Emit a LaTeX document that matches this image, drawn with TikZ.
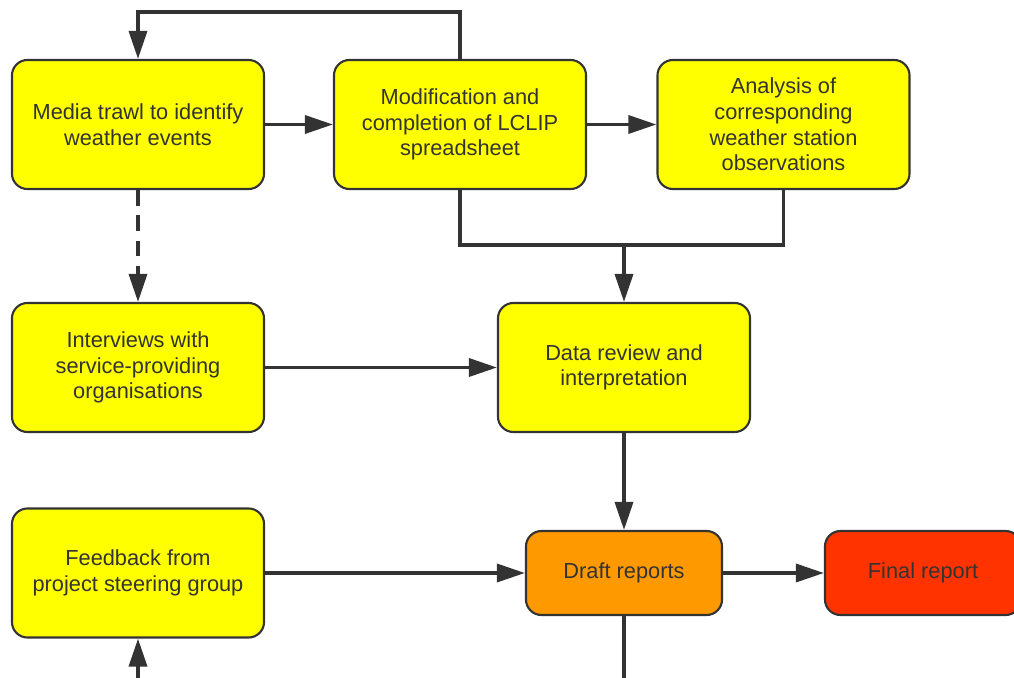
\documentclass[tikz,border=0pt]{standalone}
\usepackage{fontspec}
\setmainfont{Liberation Sans}
\usetikzlibrary{arrows.meta}

\definecolor{linegray}{HTML}{333333}
\definecolor{stageyellow}{HTML}{FFFF00}
\definecolor{draftorange}{HTML}{FF9900}
\definecolor{finalred}{HTML}{FF3300}

\tikzset{
	stage/.style={draw=linegray, line width=1.5pt, rounded corners=11pt, fill=stageyellow,
		text=linegray, align=center, minimum width=6.3cm, minimum height=3.225cm,
		font=\fontsize{15.5}{18.2}\selectfont},
	report/.style={stage, minimum width=4.9cm, minimum height=2.1cm},
	wire/.style={draw=linegray, line width=2.5pt},
	flow/.style={wire, -{Triangle[length=0.7cm,width=0.45cm]}}
}

\begin{document}
\begin{tikzpicture}[x=0.025cm,y=-0.025cm]
	\useasboundingbox (0,0) rectangle (1014,678);
	\clip (0,0) rectangle (1014,678);
	% boxes
	\node[stage] (media) at (138,124.5) {Media trawl to identify\\weather events};
	\node[stage] (modif) at (460,124.5) {Modification and\\completion of LCLIP\\spreadsheet};
	\node[stage] (analysis) at (783.5,124.5) {Analysis of\\corresponding\\weather station\\observations};
	\node[stage] (interviews) at (138,367.5) {Interviews with\\service-providing\\organisations};
	\node[stage] (review) at (624,367.5) {Data review and\\interpretation};
	\node[stage] (feedback) at (138,573) {Feedback from\\project steering group};
	\node[report, fill=draftorange] (draft) at (624,573) {Draft reports};
	\node[report, fill=finalred] (final) at (923,573) {Final report};
	\coordinate (merge) at (624,245);
	\coordinate (out) at (624,682);
	\coordinate (in) at (138,682);
	% connectors
	\draw[flow] (modif.north) -- ++(0,-47) -| (media.north);
	\draw[flow] (media) -- (modif);
	\draw[flow] (modif) -- (analysis);
	\draw[wire] (modif.south) |- (merge) -| (analysis.south);
	\draw[flow] (merge) -- (review);
	\draw[flow, dash pattern=on 11pt off 7pt] (media) -- (interviews);
	\draw[flow] (interviews) -- (review);
	\draw[flow] (review) -- (draft);
	\draw[flow] (feedback) -- (draft);
	\draw[flow] (draft) -- (final);
	\draw[wire] (draft) -- (out);
	\draw[flow] (in) -- (feedback);
\end{tikzpicture}
\end{document}
